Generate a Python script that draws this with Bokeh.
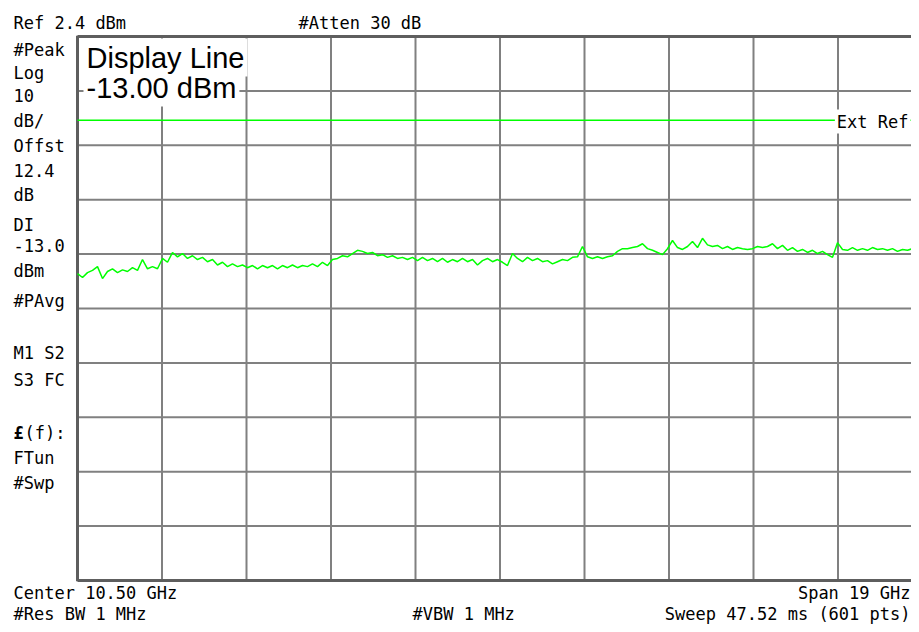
import numpy as np
from bokeh.plotting import figure
from bokeh.models import Range1d, Label
from bokeh.embed import file_html
from bokeh.resources import INLINE

FREQ_START_GHZ = 1.0      # Center 10.50 GHz, Span 19 GHz
FREQ_STOP_GHZ = 20.0
REF_DBM = 2.4             # Ref 2.4 dBm
DB_PER_DIV = 10           # Log 10 dB/
N_DIV = 10
DISPLAY_LINE_DBM = -13.0  # Display Line -13.00 dBm

trace_dbm = [
    -41.2, -41.9, -41.0, -40.6, -39.9, -42.1, -40.8, -40.3, -41.0, -40.5,
    -40.8, -40.1, -40.6, -38.6, -40.3, -39.9, -40.3, -38.4, -39.1, -37.3,
    -38.1, -37.5, -38.4, -37.9, -38.6, -38.2, -39.0, -38.6, -39.6, -39.1,
    -39.9, -39.4, -39.9, -39.6, -40.1, -39.7, -40.3, -39.7, -40.1, -39.7,
    -40.3, -39.7, -40.1, -39.6, -40.1, -39.7, -39.9, -39.4, -39.9, -39.1,
    -39.7, -38.6, -38.4, -37.9, -38.1, -37.5, -36.9, -37.1, -37.5, -37.3,
    -37.9, -37.7, -38.2, -37.9, -38.4, -38.2, -38.6, -38.2, -38.8, -38.2,
    -38.8, -38.4, -39.0, -38.4, -39.1, -38.6, -39.0, -38.4, -39.0, -38.6,
    -39.6, -38.8, -38.4, -39.0, -38.6, -39.1, -39.7, -37.5, -38.4, -39.0,
    -38.2, -38.8, -38.4, -39.0, -38.8, -39.4, -39.0, -38.6, -38.8, -38.2,
    -38.1, -36.2, -38.1, -38.4, -38.1, -38.4, -38.1, -37.9, -37.1, -36.6,
    -36.6, -36.4, -36.2, -35.7, -36.6, -36.9, -37.3, -37.7, -36.6, -35.1,
    -36.4, -36.75, -36.2, -35.3, -36.4, -34.7, -35.9, -36.2, -36.0, -36.6,
    -36.2, -36.75, -36.4, -36.6, -36.75, -36.6, -36.2, -36.4, -36.2, -35.7,
    -36.6, -36.0, -36.9, -36.4, -37.1, -36.75, -37.3, -36.9, -37.5, -37.1,
    -37.7, -38.2, -35.5, -36.75, -36.9, -36.4, -36.9, -36.6, -36.9, -36.4,
    -36.75, -36.6, -36.9, -36.6, -37.1, -36.75, -36.9, -36.6, -35.8, -36.75,
]
freq_ghz = np.linspace(FREQ_START_GHZ, FREQ_STOP_GHZ, len(trace_dbm))

x_ticks = [FREQ_START_GHZ + k * (FREQ_STOP_GHZ - FREQ_START_GHZ) / N_DIV for k in range(N_DIV + 1)]
y_ticks = [REF_DBM - k * DB_PER_DIV for k in range(N_DIV + 1)]
y_bottom = y_ticks[-1]

header_left = "Ref 2.4 dBm"
header_mid = "#Atten 30 dB"
side_texts = ["#Peak", "Log", "10", "dB/", "Offst", "12.4", "dB", "DI", "-13.0", "dBm",
              "#PAvg", "M1  S2", "S3  FC", "(f):", "FTun", "#Swp"]
footer_left = ["Center 10.50 GHz", "#Res BW 1 MHz"]
footer_mid = "#VBW 1 MHz"
footer_right = ["Span 19 GHz", "Sweep 47.52 ms (601 pts)"]
display_line_texts = ["Display Line", "-13.00 dBm"]
ext_ref_text = "Ext Ref"

# ---------------- layout (pixels) ----------------
W, H = 911, 624
GX0, GY0 = 77, 36          # graticule top-left corner on the canvas
GW, GH = 845, 544          # graticule size (10 x 10 divisions)
span = FREQ_STOP_GHZ - FREQ_START_GHZ
full_db = N_DIV * DB_PER_DIV
x_range = Range1d(FREQ_START_GHZ - GX0 * span / GW, FREQ_START_GHZ + (W - GX0) * span / GW)
y_range = Range1d(REF_DBM - (H - GY0) * full_db / GH, REF_DBM + GY0 * full_db / GH)

p = figure(width=W, height=H, output_backend="svg", toolbar_location=None,
           x_axis_location=None, y_axis_location=None,
           x_range=x_range, y_range=y_range,
           min_border_left=0, min_border_right=0, min_border_top=0, min_border_bottom=0)
p.outline_line_color = None
p.background_fill_color = "white"
p.border_fill_color = "white"
p.xgrid.visible = False
p.ygrid.visible = False

GRID_COLOR = "#808080"
BORDER = "#5e5e5e"
nv = len(x_ticks) - 1
nh = len(y_ticks) - 2
p.segment(x0=x_ticks[1:], y0=[y_bottom] * nv, x1=x_ticks[1:], y1=[REF_DBM] * nv,
          line_color=GRID_COLOR, line_width=2)
p.segment(x0=[FREQ_START_GHZ] * nh, y0=y_ticks[1:-1], x1=[FREQ_STOP_GHZ] * nh, y1=y_ticks[1:-1],
          line_color=GRID_COLOR, line_width=2)
p.segment(x0=[FREQ_START_GHZ, FREQ_START_GHZ, FREQ_START_GHZ],
          y0=[y_bottom - 0.15, REF_DBM, y_bottom],
          x1=[FREQ_START_GHZ, FREQ_STOP_GHZ, FREQ_STOP_GHZ],
          y1=[REF_DBM + 0.15, REF_DBM, y_bottom],
          line_color=BORDER, line_width=3)

GREEN = "#00ff00"
p.line(freq_ghz, trace_dbm, line_color=GREEN, line_width=1.5)
p.line([FREQ_START_GHZ, FREQ_STOP_GHZ], [DISPLAY_LINE_DBM, DISPLAY_LINE_DBM], line_color=GREEN, line_width=1.5)

MONO = "DejaVu Sans Mono"
FS = 17


def add_text(txt, px, py, align="left", font=MONO, size=FS, style="normal", bg=None, pad=0):
    """py is the wanted on-screen baseline; Bokeh's label sits ~0.35em lower, so lift it."""
    kw = {}
    if bg is not None:
        kw = dict(background_fill_color=bg, padding=pad)
    y_param = py - round(0.35 * size)
    p.add_layout(Label(x=px, y=H - y_param, x_units="screen", y_units="screen", text=txt,
                       text_font=font, text_font_size=f"{size}px", text_font_style=style,
                       text_color="black", text_align=align, text_baseline="alphabetic", **kw))


add_text(header_left, 13, 28)
add_text(header_mid, 298, 28)
side_base = [55, 78, 101, 126, 151, 176, 200, 230, 251, 276, 306, 358, 385, 438, 463, 488]
for t, b in zip(side_texts, side_base):
    add_text(t, 24 if t == "(f):" else 13, b)
add_text("\u00a3", 13, 438, style="bold")
add_text(footer_left[0], 13, 598)
add_text(footer_left[1], 13, 619)
add_text(footer_mid, 412, 619)
add_text(footer_right[0], 910, 598, align="right")
add_text(footer_right[1], 910, 619, align="right")

add_text(display_line_texts[1], 83, 97, font="Liberation Sans", size=29, bg="white", pad=3)
add_text(display_line_texts[0], 83, 67, font="Liberation Sans", size=29, bg="white", pad=3)
add_text(ext_ref_text, 910, 127, align="right", bg="white", pad=2)

open("out.html", "w").write(file_html(p, INLINE))
